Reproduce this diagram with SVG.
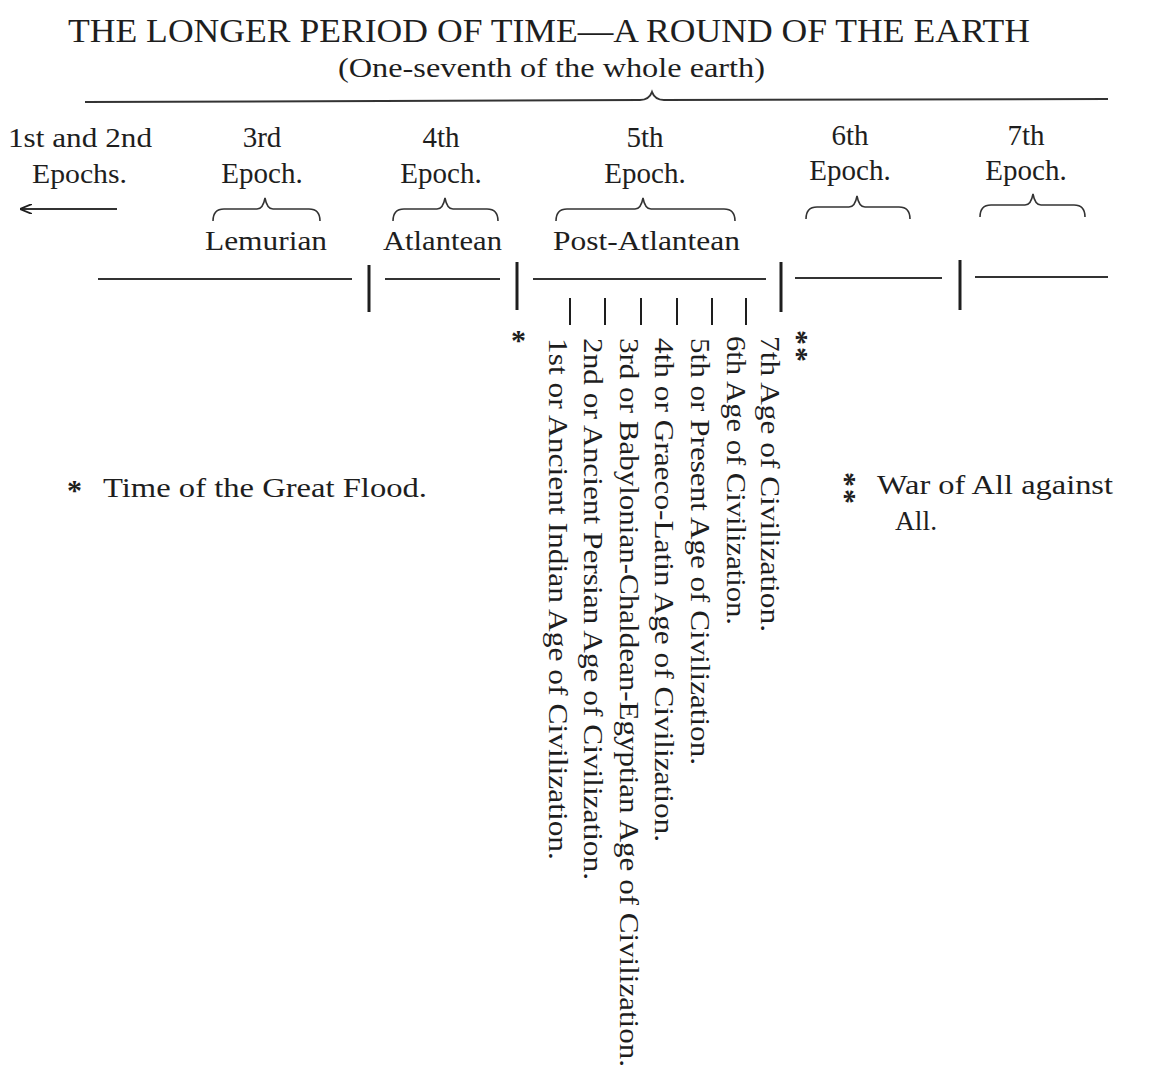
<svg xmlns="http://www.w3.org/2000/svg" width="1158" height="1090" viewBox="0 0 1158 1090">
<style>
text{font-family:"Liberation Serif","Times New Roman",serif;fill:#1e1e1e}
.t{font-size:33px}
.s{font-size:28px}
.e{font-size:29px;text-anchor:middle}
.v{font-size:27px}
.st{font-size:30px;font-weight:bold}
.ln{stroke:#333;stroke-width:2;fill:none}
.bar{stroke:#1e1e1e;stroke-width:3;fill:none}
.tk{stroke:#1e1e1e;stroke-width:2;fill:none}
.br{stroke:#333;stroke-width:1.6;fill:none}
</style>
<defs>
<marker id="ah" viewBox="0 0 12 10" refX="11" refY="5" markerWidth="12" markerHeight="10" markerUnits="userSpaceOnUse" orient="auto">
<path d="M0,0 L12,5 L0,10" fill="none" stroke="#1e1e1e" stroke-width="1.8"/>
</marker>
</defs>
<rect width="1158" height="1090" fill="#fff"/>
<g id="title">
<text class="t" x="68" y="42" textLength="962" lengthAdjust="spacingAndGlyphs">THE LONGER PERIOD OF TIME—A ROUND OF THE EARTH</text>
<text class="s" x="338" y="77" textLength="427" lengthAdjust="spacingAndGlyphs">(One-seventh of the whole earth)</text>
</g>
<g id="round-brace">
<path class="ln" d="M85,102 L640,100 Q649,100 652,92 Q655,100 664,100 L1108,99"/>
</g>
<g id="epoch-1-2">
<text class="s" x="8" y="147" textLength="144" lengthAdjust="spacingAndGlyphs">1st and 2nd</text>
<text class="s" x="32" y="183" textLength="95" lengthAdjust="spacingAndGlyphs">Epochs.</text>
</g>
<g id="epoch-3">
<text class="e" x="262" y="147">3rd</text>
<text class="e" x="262" y="183">Epoch.</text>
<path class="br" d="M213,221 Q213,209 224,209 L257,209 Q263,209 265,198 Q267,209 273,209 L309,209 Q320,209 320,221"/>
<text class="s" x="205" y="250" textLength="122" lengthAdjust="spacingAndGlyphs">Lemurian</text>
</g>
<g id="epoch-4">
<text class="e" x="441" y="147">4th</text>
<text class="e" x="441" y="183">Epoch.</text>
<path class="br" d="M393,221 Q393,209 404,209 L437,209 Q443,209 445,198 Q447,209 453,209 L487,209 Q498,209 498,221"/>
<text class="s" x="383" y="250" textLength="119" lengthAdjust="spacingAndGlyphs">Atlantean</text>
</g>
<g id="epoch-5">
<text class="e" x="645" y="147">5th</text>
<text class="e" x="645" y="183">Epoch.</text>
<path class="br" d="M556,221 Q556,209 567,209 L635,209 Q641,209 643,198 Q645,209 651,209 L724,209 Q735,209 735,221"/>
<text class="s" x="553" y="250" textLength="187" lengthAdjust="spacingAndGlyphs">Post-Atlantean</text>
</g>
<g id="epoch-6">
<text class="e" x="850" y="145">6th</text>
<text class="e" x="850" y="180">Epoch.</text>
<path class="br" d="M806,219 Q806,207 817,207 L849,207 Q855,207 857,196 Q859,207 865,207 L899,207 Q910,207 910,219"/>
</g>
<g id="epoch-7">
<text class="e" x="1026" y="145">7th</text>
<text class="e" x="1026" y="180">Epoch.</text>
<path class="br" d="M980,217 Q980,205 991,205 L1025,205 Q1031,205 1033,194 Q1035,205 1041,205 L1074,205 Q1085,205 1085,217"/>
</g>
<g id="connectors">
<line class="ln" x1="117" y1="209" x2="21" y2="209" marker-end="url(#ah)"/>
<line class="ln" x1="98" y1="279" x2="352" y2="279"/>
<line class="ln" x1="385" y1="279" x2="500" y2="279"/>
<line class="ln" x1="533" y1="279" x2="766" y2="279"/>
<line class="ln" x1="795" y1="278" x2="942" y2="278"/>
<line class="ln" x1="975" y1="277" x2="1108" y2="277"/>
<line class="bar" x1="369" y1="265" x2="369" y2="312"/>
<line class="bar" x1="517" y1="262" x2="517" y2="310"/>
<line class="bar" x1="781" y1="262" x2="781" y2="312"/>
<line class="bar" x1="960" y1="260" x2="960" y2="310"/>
<line class="tk" x1="570" y1="298" x2="570" y2="325"/>
<line class="tk" x1="605" y1="298" x2="605" y2="325"/>
<line class="tk" x1="641" y1="298" x2="641" y2="325"/>
<line class="tk" x1="677" y1="298" x2="677" y2="325"/>
<line class="tk" x1="712" y1="298" x2="712" y2="325"/>
<line class="tk" x1="746" y1="298" x2="746" y2="325"/>
</g>
<g id="ages">
<text class="v" transform="translate(549,338) rotate(90)" textLength="522" lengthAdjust="spacingAndGlyphs">1st or Ancient Indian Age of Civilization.</text>
<text class="v" transform="translate(584,338) rotate(90)" textLength="542" lengthAdjust="spacingAndGlyphs">2nd or Ancient Persian Age of Civilization.</text>
<text class="v" transform="translate(620,338) rotate(90)" textLength="729" lengthAdjust="spacingAndGlyphs">3rd or Babylonian-Chaldean-Egyptian Age of Civilization.</text>
<text class="v" transform="translate(655,338) rotate(90)" textLength="504" lengthAdjust="spacingAndGlyphs">4th or Graeco-Latin Age of Civilization.</text>
<text class="v" transform="translate(691,338) rotate(90)" textLength="427" lengthAdjust="spacingAndGlyphs">5th or Present Age of Civilization.</text>
<text class="v" transform="translate(727,336) rotate(90)" textLength="289" lengthAdjust="spacingAndGlyphs">6th Age of Civilization.</text>
<text class="v" transform="translate(761,336) rotate(90)" textLength="296" lengthAdjust="spacingAndGlyphs">7th Age of Civilization.</text>
</g>
<g id="marks">
<text class="st" x="511" y="350">*</text>
<text class="st" transform="translate(788,330) rotate(90)" letter-spacing="2">**</text>
</g>
<g id="note-flood">
<text class="st" x="67" y="500">*</text>
<text class="s" x="103" y="497" textLength="324" lengthAdjust="spacingAndGlyphs">Time of the Great Flood.</text>
</g>
<g id="note-war">
<text class="st" transform="translate(836,472) rotate(90)" font-size="26" letter-spacing="2">**</text>
<text class="s" x="877" y="494" textLength="236" lengthAdjust="spacingAndGlyphs">War of All against</text>
<text class="s" x="895" y="530" textLength="42" lengthAdjust="spacingAndGlyphs">All.</text>
</g>
</svg>
